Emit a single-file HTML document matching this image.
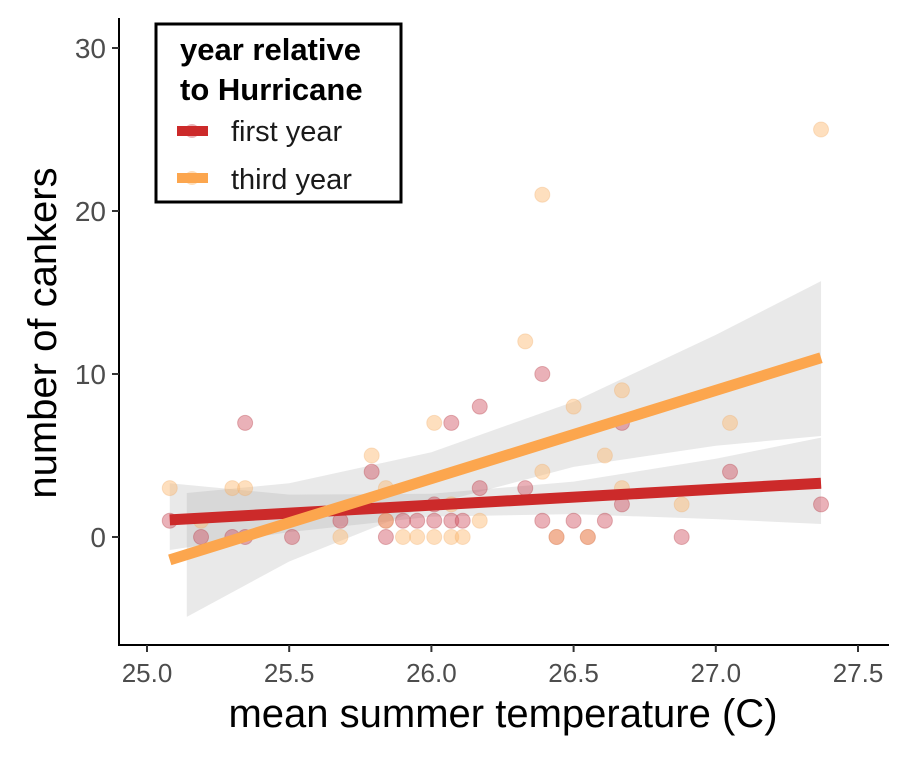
<!DOCTYPE html>
<html><head><meta charset="utf-8"><style>
body{margin:0;background:#fff;}
svg text{font-family:"Liberation Sans",Arial,sans-serif;}
</style></head><body>
<svg id="chart" width="912" height="754" viewBox="0 0 912 754" xmlns="http://www.w3.org/2000/svg">
<g id="ribbons"></g><g id="points"></g><g id="lines"></g><g id="axes"></g>
<g>
<rect x="156" y="24" width="245" height="178" fill="#fff" stroke="#000" stroke-width="3"/>
<text x="180" y="60" font-size="31" font-weight="bold">year relative</text>
<text x="180" y="100" font-size="31" font-weight="bold">to Hurricane</text>
<g>
<circle cx="192" cy="131" r="7" fill="rgba(205,70,80,0.4)"/>
<rect x="177" y="126" width="31" height="10" fill="#cc2a2a"/>
<text x="231" y="141" font-size="29" fill="#1a1a1a">first year</text></g>
<g>
<circle cx="192" cy="178" r="7" fill="rgba(253,190,120,0.5)"/>
<rect x="177" y="173" width="31" height="10" fill="#fca64e"/>
<text x="231" y="189" font-size="29" fill="#1a1a1a">third year</text></g>
</g>
</svg>
<script>
const xTicks=[25.0,25.5,26.0,26.5,27.0,27.5];
const xTickLabels=["25.0","25.5","26.0","26.5","27.0","27.5"];
const yTicks=[0,10,20,30];
const yTickLabels=["0","10","20","30"];
const firstX=[25.08,25.19,25.30,25.345,25.345,25.51,25.68,25.79,25.84,25.84,25.90,25.95,26.01,26.07,26.11,26.07,26.17,26.17,26.01,26.33,26.39,26.39,26.50,26.61,26.67,26.67,26.88,27.05,27.37,26.44,26.55];
const firstY=[1,0,0,7,0,0,1,4,0,1,1,1,1,1,1,7,8,3,2,3,10,1,1,1,7,2,0,4,2,0,0];
const thirdX=[25.08,25.19,25.30,25.345,25.68,25.79,25.84,25.84,25.90,25.95,26.01,26.07,26.11,26.01,26.07,26.17,26.33,26.39,26.39,26.50,26.61,26.67,26.67,26.88,27.05,27.37,26.44,26.55];
const thirdY=[3,1,3,3,0,5,3,1,0,0,0,0,0,7,2,1,12,21,4,8,5,9,3,2,7,25,0,0];
const firstFitX=[25.08,27.37];
const firstFitY=[1.05,3.3];
const thirdFitX=[25.08,27.37];
const thirdFitY=[-1.4,11.0];
const firstBandX=[25.08,25.5,26.0,26.5,27.0,27.37];
const firstBandLo=[-0.8,0.3,1.25,1.4,1.1,0.8];
const firstBandHi=[3.3,2.6,2.65,3.4,4.8,6.1];
const thirdBandX=[25.14,25.5,26.0,26.5,27.0,27.37];
const thirdBandLo=[-4.9,-1.5,2.0,4.3,5.6,6.2];
const thirdBandHi=[2.7,3.3,5.2,8.3,12.4,15.7];

const NS="http://www.w3.org/2000/svg";
const sx=v=>147+(v-25)*284.4;
const sy=v=>537-v*16.3;
function mk(tag,attrs,parent){const e=document.createElementNS(NS,tag);for(const k in attrs)e.setAttribute(k,attrs[k]);parent.appendChild(e);return e;}
const rib=document.getElementById('ribbons');
function band(xs,lo,hi,name){
  let d='M'+xs.map((x,i)=>sx(x)+','+sy(hi[i])).join('L');
  d+='L'+xs.map((x,i)=>[x,i]).reverse().map(([x,i])=>sx(x)+','+sy(lo[i])).join('L')+'Z';
  const p=mk('path',{d:d,fill:'rgba(153,153,153,0.22)'},rib);
  
  
}
band(firstBandX,firstBandLo,firstBandHi,'first-year-confidence-band');
band(thirdBandX,thirdBandLo,thirdBandHi,'third-year-confidence-band');
const pts=document.getElementById('points');
firstX.forEach((x,i)=>{
  const c=mk('circle',{cx:sx(x),cy:sy(firstY[i]),r:7.5,fill:'rgba(205,70,85,0.42)',stroke:'rgba(180,60,70,0.35)','stroke-width':1},pts);
  
  
});
thirdX.forEach((x,i)=>{
  const c=mk('circle',{cx:sx(x),cy:sy(thirdY[i]),r:7.5,fill:'rgba(253,185,110,0.45)',stroke:'rgba(240,170,100,0.3)','stroke-width':1},pts);
  
  
});
const ln=document.getElementById('lines');
const l1=mk('line',{x1:sx(firstFitX[0]),y1:sy(firstFitY[0]),x2:sx(firstFitX[1]),y2:sy(firstFitY[1]),stroke:'#cc2a2a','stroke-width':11},ln);


const l2=mk('line',{x1:sx(thirdFitX[0]),y1:sy(thirdFitY[0]),x2:sx(thirdFitX[1]),y2:sy(thirdFitY[1]),stroke:'#fca64e','stroke-width':11},ln);


const ax=document.getElementById('axes');
const xa=mk('line',{x1:118,y1:645,x2:889,y2:645,stroke:'#000','stroke-width':2},ax);


const ya=mk('line',{x1:119,y1:18,x2:119,y2:646,stroke:'#000','stroke-width':2},ax);


xTicks.forEach((v,i)=>{
  mk('line',{x1:sx(v),y1:645,x2:sx(v),y2:652,stroke:'#333','stroke-width':2},ax);
  const t=mk('text',{x:sx(v),y:682,'font-size':26,fill:'#4d4d4d','text-anchor':'middle'},ax);
  t.textContent=xTickLabels[i];
  
  
});
yTicks.forEach((v,i)=>{
  mk('line',{x1:112,y1:sy(v),x2:119,y2:sy(v),stroke:'#333','stroke-width':2},ax);
  const t=mk('text',{x:106,y:sy(v)+10,'font-size':28,fill:'#4d4d4d','text-anchor':'end'},ax);
  t.textContent=yTickLabels[i];
  
  
});
const xt=mk('text',{x:503,y:727,'font-size':40,fill:'#000','text-anchor':'middle'},ax);
xt.textContent='mean summer temperature (C)';


const yt=mk('text',{x:0,y:0,'font-size':40,fill:'#000','text-anchor':'middle',transform:'translate(56,333) rotate(-90)'},ax);
yt.textContent='number of cankers';


</script>
</body></html>
